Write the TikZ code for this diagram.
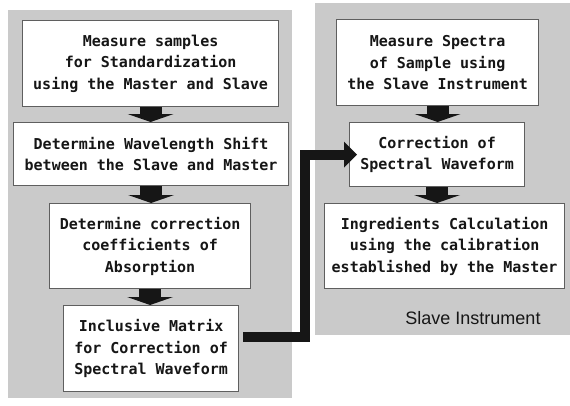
\documentclass[tikz,border=0pt]{standalone}
\usepackage{fontspec}
\setmonofont{DejaVu Sans Mono}
\setsansfont{Liberation Sans}
\usetikzlibrary{arrows.meta}
\definecolor{panelgray}{RGB}{202,202,202}
\definecolor{boxedge}{RGB}{95,95,95}
\definecolor{inkcolor}{RGB}{22,22,22}

\begin{document}
\begin{tikzpicture}[
    x=1pt, y=-1pt,
    stepbox/.style={draw=boxedge, line width=1.2pt, fill=white, anchor=north west,
        inner sep=0pt, align=center, text=inkcolor,
        font=\ttfamily\bfseries\fontsize{15}{21.5}\selectfont},
    fatarrow/.style={draw=inkcolor, line width=22pt,
        -{Triangle[width=46pt,length=8pt,line width=0pt]}},
    linkarrow/.style={draw=inkcolor, line width=10pt,
        -{Triangle[width=26pt,length=13pt,line width=0pt]}}
]

% Frame: 570 x 405, y runs downwards
\useasboundingbox (0,0) rectangle (570,405);

% Gray panels
\fill[panelgray] (8,10) rectangle (292,398);
\fill[panelgray] (315,3) rectangle (570,335);

% Left column (Master + Slave)
\node[stepbox, minimum width=256pt, minimum height=86pt] (b1) at (22,20)
    {Measure samples\\for Standardization\\using the Master and Slave};
\node[stepbox, minimum width=275pt, minimum height=63pt] (b2) at (13,122)
    {Determine Wavelength Shift\\between the Slave and Master};
\node[stepbox, minimum width=201pt, minimum height=85pt] (b3) at (49,203)
    {Determine correction\\coefficients of\\Absorption};
\node[stepbox, minimum width=175pt, minimum height=86pt] (b4) at (63,305)
    {Inclusive Matrix\\for Correction of\\Spectral Waveform};

% Right column (Slave)
\node[stepbox, minimum width=202pt, minimum height=86pt] (r1) at (336,19)
    {Measure Spectra\\of Sample using\\the Slave Instrument};
\node[stepbox, minimum width=175pt, minimum height=64pt] (r2) at (349,122)
    {Correction of\\Spectral Waveform};
\node[stepbox, minimum width=240pt, minimum height=85pt] (r3) at (324,203)
    {Ingredients Calculation\\using the calibration\\established by the Master};

\node[font=\sffamily\fontsize{18}{20}\selectfont, text=inkcolor] (slave) at (473,318) {Slave Instrument};

% Block arrows between steps
\foreach \a/\b in {b1/b2, b2/b3, b3/b4, r1/r2, r2/r3}
    \draw[fatarrow] (\a.south) -- (\a.south |- \b.north);

% Matrix handed over to the Slave
\draw[linkarrow] ([xshift=4pt,yshift=12pt]b4.east) -- ++(62,0) |- ([xshift=8pt]r2.west);

\end{tikzpicture}
\end{document}
